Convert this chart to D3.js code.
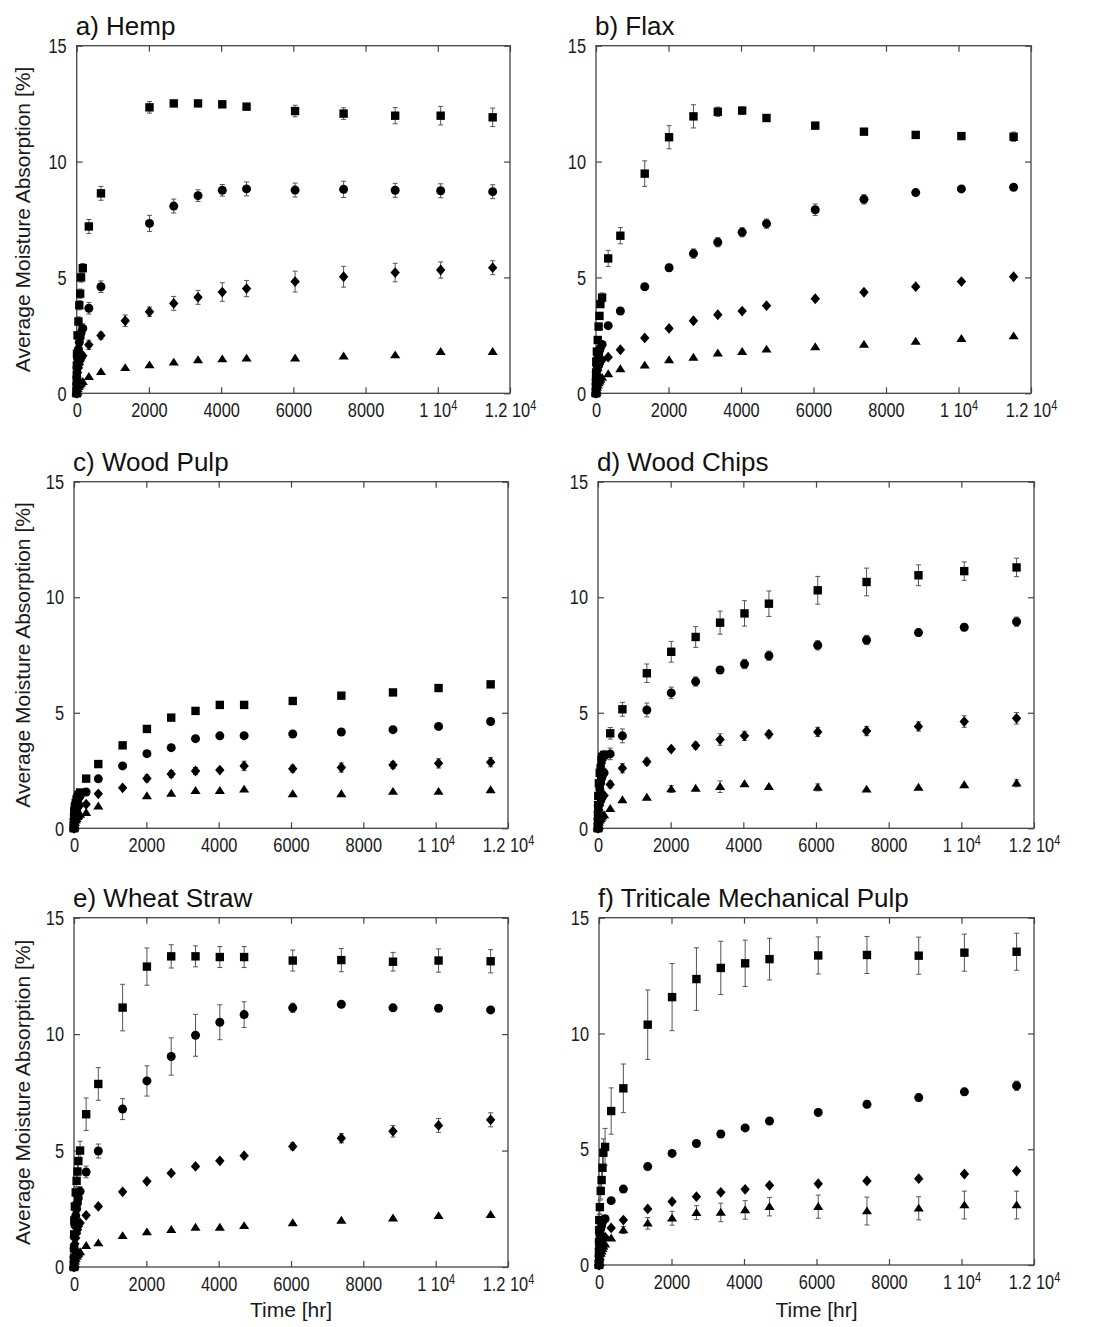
<!DOCTYPE html>
<html><head><meta charset="utf-8">
<script src="https://cdn.jsdelivr.net/npm/d3@7"></script>
<style>
html,body{margin:0;padding:0;background:#fff;}
svg{display:block;}
</style></head>
<body>
<div id="chart"></div>
<script>
// ---------- DATA ----------
const times = [0, 1, 2, 4, 8, 24, 48, 72, 96, 120, 168, 336, 672, 1344, 2016, 2688, 3360, 4032, 4704, 6048, 7392, 8820, 10080, 11520];
const panelTitles = ["a) Hemp", "b) Flax", "c) Wood Pulp", "d) Wood Chips", "e) Wheat Straw", "f) Triticale Mechanical Pulp"];
const xTicks = [0, 2000, 4000, 6000, 8000, 10000, 12000];
const yTicks = [0, 5, 10, 15];
const xLabel = "Time [hr]";
const yLabel = "Average Moisture Absorption [%]";
const xDomain = [0, 12000];
const yDomain = [0, 15];

// a) Hemp
const hempSquare    = [0, 0.4, 0.8, 1.2, 1.7, 2.5, 3.1, 3.8, 4.3, 5.0, 5.4, 7.2, 8.63, null, 12.34, 12.51, 12.51, 12.47, 12.37, 12.18, 12.07, 11.98, 11.98, 11.91];
const hempSquareErr = [0, 0.05, 0.05, 0.1, 0.1, 0.15, 0.2, 0.2, 0.2, 0.2, 0.2, 0.3, 0.3, null, 0.25, 0.1, 0.1, 0.1, 0.1, 0.25, 0.25, 0.35, 0.4, 0.4];
const hempCircle    = [0, 0.2, 0.4, 0.7, 1.1, 1.5, 1.9, 2.2, 2.4, 2.6, 2.8, 3.67, 4.6, null, 7.33, 8.08, 8.53, 8.76, 8.82, 8.77, 8.8, 8.76, 8.74, 8.7];
const hempCircleErr = [0, 0.05, 0.05, 0.1, 0.1, 0.15, 0.15, 0.2, 0.2, 0.2, 0.2, 0.25, 0.25, null, 0.35, 0.3, 0.25, 0.25, 0.3, 0.3, 0.35, 0.3, 0.3, 0.3];
const hempDiamond    = [0, 0.1, 0.2, 0.4, 0.6, 0.9, 1.1, 1.25, 1.4, 1.5, 1.62, 2.09, 2.49, 3.13, 3.52, 3.88, 4.14, 4.37, 4.52, 4.82, 5.03, 5.21, 5.32, 5.42];
const hempDiamondErr = [0, 0, 0.05, 0.05, 0.1, 0.1, 0.1, 0.1, 0.1, 0.1, 0.15, 0.2, 0.15, 0.25, 0.2, 0.3, 0.3, 0.4, 0.35, 0.45, 0.45, 0.4, 0.35, 0.3];
const hempTriangle    = [0, 0.03, 0.05, 0.08, 0.12, 0.2, 0.28, 0.35, 0.4, 0.45, 0.5, 0.72, 0.93, 1.1, 1.22, 1.34, 1.44, 1.48, 1.51, 1.52, 1.6, 1.65, 1.8, 1.8];
const hempTriangleErr = [0, 0, 0, 0, 0.03, 0.03, 0.03, 0.05, 0.05, 0.05, 0.05, 0.05, 0.05, 0.05, 0.05, 0.05, 0.05, 0.05, 0.05, 0.05, 0.05, 0.05, 0.05, 0.05];

// b) Flax
const flaxSquare    = [0, 0.3, 0.6, 0.9, 1.37, 1.8, 2.3, 2.88, 3.34, 3.85, 4.13, 5.82, 6.8, 9.48, 11.05, 11.95, 12.15, 12.2, 11.88, 11.55, 11.29, 11.15, 11.1, 11.07];
const flaxSquareErr = [0, 0.05, 0.05, 0.1, 0.1, 0.1, 0.1, 0.15, 0.15, 0.15, 0.2, 0.35, 0.35, 0.55, 0.5, 0.5, 0.2, 0.15, 0.1, 0.1, 0.1, 0.1, 0.1, 0.2];
const flaxCircle    = [0, 0.2, 0.4, 0.6, 0.9, 1.2, 1.5, 1.7, 1.85, 1.95, 2.11, 2.92, 3.55, 4.6, 5.42, 6.03, 6.52, 6.95, 7.32, 7.92, 8.37, 8.66, 8.82, 8.89];
const flaxCircleErr = [0, 0, 0.05, 0.05, 0.05, 0.05, 0.05, 0.05, 0.05, 0.05, 0.05, 0.05, 0.1, 0.1, 0.15, 0.2, 0.2, 0.2, 0.2, 0.25, 0.2, 0.1, 0.05, 0.05];
const flaxDiamond    = [0, 0.1, 0.2, 0.35, 0.55, 0.8, 1.0, 1.15, 1.25, 1.35, 1.44, 1.56, 1.88, 2.39, 2.8, 3.13, 3.39, 3.55, 3.78, 4.08, 4.36, 4.6, 4.82, 5.03];
const flaxDiamondErr = [0, 0, 0, 0.03, 0.03, 0.03, 0.05, 0.05, 0.05, 0.05, 0.05, 0.05, 0.05, 0.05, 0.05, 0.05, 0.05, 0.05, 0.05, 0.05, 0.05, 0.05, 0.05, 0.05];
const flaxTriangle    = [0, 0.03, 0.06, 0.1, 0.15, 0.25, 0.35, 0.45, 0.52, 0.6, 0.68, 0.84, 1.05, 1.21, 1.44, 1.55, 1.73, 1.8, 1.9, 2.0, 2.11, 2.24, 2.36, 2.47];
const flaxTriangleErr = [0, 0, 0, 0, 0.03, 0.03, 0.03, 0.03, 0.03, 0.03, 0.03, 0.03, 0.03, 0.03, 0.03, 0.03, 0.03, 0.03, 0.03, 0.03, 0.03, 0.03, 0.03, 0.03];

// c) Wood Pulp
const pulpSquare    = [0, 0.15, 0.3, 0.5, 0.75, 0.95, 1.1, 1.25, 1.35, 1.45, 1.55, 2.15, 2.78, 3.59, 4.3, 4.79, 5.08, 5.34, 5.34, 5.51, 5.74, 5.88, 6.07, 6.23];
const pulpSquareErr = [0, 0, 0, 0.03, 0.03, 0.03, 0.03, 0.03, 0.03, 0.03, 0.05, 0.05, 0.05, 0.05, 0.05, 0.1, 0.1, 0.05, 0.05, 0.05, 0.05, 0.05, 0.05, 0.05];
const pulpCircle    = [0, 0.1, 0.25, 0.4, 0.6, 0.8, 0.95, 1.1, 1.2, 1.3, 1.4, 1.57, 2.14, 2.7, 3.23, 3.49, 3.88, 4.0, 4.01, 4.08, 4.17, 4.27, 4.41, 4.62];
const pulpCircleErr = [0, 0, 0, 0.03, 0.03, 0.03, 0.03, 0.03, 0.03, 0.03, 0.03, 0.05, 0.05, 0.05, 0.05, 0.05, 0.05, 0.05, 0.05, 0.05, 0.05, 0.05, 0.05, 0.12];
const pulpDiamond    = [0, 0.05, 0.15, 0.25, 0.4, 0.55, 0.7, 0.8, 0.88, 0.95, 1.0, 1.04, 1.49, 1.75, 2.16, 2.35, 2.48, 2.52, 2.7, 2.58, 2.63, 2.74, 2.81, 2.86];
const pulpDiamondErr = [0, 0, 0, 0.03, 0.03, 0.03, 0.05, 0.05, 0.05, 0.05, 0.05, 0.05, 0.08, 0.08, 0.15, 0.15, 0.15, 0.1, 0.2, 0.15, 0.2, 0.15, 0.2, 0.2];
const pulpTriangle    = [0, 0.03, 0.05, 0.1, 0.15, 0.25, 0.35, 0.42, 0.5, 0.55, 0.6, 0.68, 0.96, null, 1.4, 1.51, 1.63, 1.63, 1.69, 1.49, 1.49, 1.59, 1.59, 1.66];
const pulpTriangleErr = [0, 0, 0, 0, 0.03, 0.03, 0.03, 0.03, 0.03, 0.03, 0.03, 0.03, 0.03, null, 0.05, 0.05, 0.05, 0.05, 0.05, 0.05, 0.05, 0.05, 0.05, 0.05];

// d) Wood Chips
const chipsSquare    = [0, 0.3, 0.6, 1.0, 1.4, 1.95, 2.4, 2.6, 2.96, 3.1, 3.17, 4.11, 5.15, 6.71, 7.64, 8.28, 8.9, 9.3, 9.72, 10.3, 10.66, 10.95, 11.13, 11.29];
const chipsSquareErr = [0, 0.05, 0.05, 0.1, 0.1, 0.1, 0.15, 0.15, 0.15, 0.2, 0.2, 0.25, 0.3, 0.4, 0.45, 0.45, 0.5, 0.55, 0.55, 0.6, 0.6, 0.45, 0.4, 0.4];
const chipsCircle    = [0, 0.2, 0.4, 0.7, 1.0, 1.4, 1.7, 1.95, 2.15, 2.3, 2.4, 3.22, 4.0, 5.12, 5.86, 6.35, 6.85, 7.11, 7.47, 7.92, 8.15, 8.47, 8.7, 8.94];
const chipsCircleErr = [0, 0.05, 0.05, 0.1, 0.1, 0.1, 0.15, 0.15, 0.15, 0.2, 0.2, 0.25, 0.3, 0.3, 0.25, 0.2, 0.15, 0.2, 0.2, 0.2, 0.2, 0.15, 0.15, 0.2];
const chipsDiamond    = [0, 0.1, 0.2, 0.35, 0.55, 0.8, 1.0, 1.15, 1.25, 1.35, 1.42, 1.9, 2.6, 2.88, 3.43, 3.58, 3.84, 4.0, 4.07, 4.17, 4.21, 4.41, 4.62, 4.76];
const chipsDiamondErr = [0, 0, 0.05, 0.05, 0.05, 0.1, 0.1, 0.1, 0.1, 0.1, 0.1, 0.15, 0.2, 0.15, 0.1, 0.15, 0.25, 0.2, 0.15, 0.2, 0.2, 0.2, 0.25, 0.25];
const chipsTriangle    = [0, 0.03, 0.05, 0.1, 0.15, 0.25, 0.35, 0.42, 0.48, 0.53, 0.58, 0.85, 1.23, 1.34, 1.7, 1.73, 1.8, 1.92, 1.8, 1.77, 1.69, 1.77, 1.88, 1.95];
const chipsTriangleErr = [0, 0, 0, 0, 0.03, 0.03, 0.03, 0.05, 0.05, 0.05, 0.05, 0.05, 0.05, 0.05, 0.15, 0.1, 0.25, 0.1, 0.1, 0.15, 0.05, 0.1, 0.1, 0.15];

// e) Wheat Straw
const wheatSquare    = [0, 0.4, 0.8, 1.4, 2.0, 2.6, 3.2, 3.7, 4.1, 4.55, 5.0, 6.56, 7.86, 11.14, 12.9, 13.34, 13.34, 13.31, 13.31, 13.16, 13.18, 13.11, 13.16, 13.13];
const wheatSquareErr = [0, 0.05, 0.1, 0.1, 0.15, 0.2, 0.2, 0.25, 0.3, 0.3, 0.4, 0.7, 0.7, 1.0, 0.8, 0.5, 0.45, 0.45, 0.45, 0.45, 0.5, 0.4, 0.5, 0.5];
const wheatCircle    = [0, 0.2, 0.4, 0.8, 1.3, 1.8, 2.2, 2.5, 2.75, 2.96, 3.25, 4.08, 4.98, 6.78, 7.99, 9.04, 9.95, 10.51, 10.84, 11.13, 11.28, 11.13, 11.11, 11.04];
const wheatCircleErr = [0, 0.05, 0.05, 0.1, 0.1, 0.1, 0.15, 0.15, 0.15, 0.2, 0.2, 0.25, 0.3, 0.45, 0.65, 0.8, 0.9, 0.75, 0.55, 0.2, 0.1, 0.1, 0.1, 0.1];
const wheatDiamond    = [0, 0.1, 0.25, 0.45, 0.7, 1.0, 1.25, 1.45, 1.6, 1.75, 1.89, 2.22, 2.6, 3.23, 3.68, 4.03, 4.32, 4.56, 4.78, 5.18, 5.53, 5.83, 6.08, 6.32];
const wheatDiamondErr = [0, 0, 0.05, 0.05, 0.05, 0.05, 0.05, 0.05, 0.05, 0.05, 0.05, 0.05, 0.05, 0.05, 0.05, 0.05, 0.05, 0.1, 0.1, 0.15, 0.2, 0.25, 0.3, 0.3];
const wheatTriangle    = [0, 0.03, 0.06, 0.1, 0.15, 0.25, 0.35, 0.45, 0.52, 0.58, 0.65, 0.92, 1.03, 1.34, 1.5, 1.6, 1.7, 1.7, 1.77, 1.89, 2.0, 2.1, 2.2, 2.25];
const wheatTriangleErr = [0, 0, 0, 0, 0.03, 0.03, 0.03, 0.03, 0.03, 0.03, 0.03, 0.03, 0.03, 0.03, 0.03, 0.03, 0.03, 0.03, 0.03, 0.03, 0.03, 0.03, 0.03, 0.03];

// f) Triticale Mechanical Pulp
const tritSquare    = [0, 0.5, 1.0, 1.5, 1.94, 2.5, 3.2, 3.67, 4.2, 4.85, 5.1, 6.65, 7.63, 10.38, 11.57, 12.35, 12.83, 13.03, 13.21, 13.37, 13.39, 13.36, 13.49, 13.53];
const tritSquareErr = [0, 0.1, 0.15, 0.2, 0.25, 0.3, 0.35, 0.4, 0.5, 0.6, 0.8, 1.0, 1.05, 1.5, 1.45, 1.35, 1.15, 1.0, 0.9, 0.8, 0.8, 0.8, 0.8, 0.8];
const tritCircle    = [0, 0.2, 0.4, 0.7, 1.0, 1.3, 1.55, 1.7, 1.85, 1.95, 2.0, 2.78, 3.28, 4.25, 4.82, 5.25, 5.66, 5.92, 6.22, 6.59, 6.94, 7.23, 7.48, 7.74];
const tritCircleErr = [0, 0, 0.05, 0.05, 0.05, 0.05, 0.05, 0.05, 0.05, 0.05, 0.05, 0.05, 0.05, 0.05, 0.05, 0.1, 0.15, 0.1, 0.15, 0.15, 0.15, 0.15, 0.15, 0.2];
const tritDiamond    = [0, 0.1, 0.2, 0.35, 0.55, 0.75, 0.9, 1.0, 1.1, 1.15, 1.2, 1.6, 1.94, 2.42, 2.74, 2.95, 3.14, 3.27, 3.44, 3.51, 3.63, 3.73, 3.93, 4.06];
const tritDiamondErr = [0, 0, 0, 0.03, 0.03, 0.03, 0.03, 0.03, 0.03, 0.03, 0.03, 0.03, 0.03, 0.03, 0.03, 0.03, 0.03, 0.03, 0.03, 0.03, 0.03, 0.03, 0.03, 0.03];
const tritTriangle    = [0, 0.05, 0.1, 0.15, 0.25, 0.35, 0.5, 0.6, 0.7, 0.8, 0.9, 1.16, 1.51, 1.8, 2.02, 2.26, 2.27, 2.38, 2.52, 2.52, 2.33, 2.45, 2.59, 2.59];
const tritTriangleErr = [0, 0, 0.03, 0.03, 0.05, 0.05, 0.05, 0.05, 0.05, 0.05, 0.05, 0.1, 0.15, 0.25, 0.3, 0.3, 0.4, 0.4, 0.4, 0.5, 0.6, 0.5, 0.6, 0.6];

// ---------- BUILD ----------
const panelSeries = [
  [[hempSquare, hempSquareErr], [hempCircle, hempCircleErr], [hempDiamond, hempDiamondErr], [hempTriangle, hempTriangleErr]],
  [[flaxSquare, flaxSquareErr], [flaxCircle, flaxCircleErr], [flaxDiamond, flaxDiamondErr], [flaxTriangle, flaxTriangleErr]],
  [[pulpSquare, pulpSquareErr], [pulpCircle, pulpCircleErr], [pulpDiamond, pulpDiamondErr], [pulpTriangle, pulpTriangleErr]],
  [[chipsSquare, chipsSquareErr], [chipsCircle, chipsCircleErr], [chipsDiamond, chipsDiamondErr], [chipsTriangle, chipsTriangleErr]],
  [[wheatSquare, wheatSquareErr], [wheatCircle, wheatCircleErr], [wheatDiamond, wheatDiamondErr], [wheatTriangle, wheatTriangleErr]],
  [[tritSquare, tritSquareErr], [tritCircle, tritCircleErr], [tritDiamond, tritDiamondErr], [tritTriangle, tritTriangleErr]]
];

// layout (pixels)
const boxes = [
  {l: 76.7, r: 510, t: 45.7, b: 393.3},
  {l: 596, r: 1031, t: 45.7, b: 393.3},
  {l: 74, r: 508, t: 481.7, b: 828.3},
  {l: 598, r: 1034, t: 481.7, b: 828.3},
  {l: 74, r: 508, t: 917.7, b: 1267},
  {l: 599, r: 1034, t: 917.7, b: 1265}
];

// marker shapes
const shapes = [
  {draw(ctx, s) { const h = s; ctx.rect(-h, -h, 2*h, 2*h); }},                 // square
  {draw(ctx, s) { ctx.moveTo(s, 0); ctx.arc(0, 0, s, 0, 2*Math.PI); }},      // circle
  {draw(ctx, s) { ctx.moveTo(0, -s*1.15); ctx.lineTo(s, 0); ctx.lineTo(0, s*1.15); ctx.lineTo(-s, 0); ctx.closePath(); }}, // diamond
  {draw(ctx, s) { const w = s*1.15, hh = s; ctx.moveTo(0, -hh*1.05); ctx.lineTo(w, hh*0.75); ctx.lineTo(-w, hh*0.75); ctx.closePath(); }} // triangle
];
const shapeSize = [4.2, 4.5, 4.7, 4.4];

const W = 1097, H = 1327;
const svg = d3.select("#chart").append("svg").attr("width", W).attr("height", H)
  .style("font-family", "'Liberation Sans', Arial, Helvetica, sans-serif");

const SX = 0.78; // narrow tick font

panelSeries.forEach((series, pi) => {
  const bx = boxes[pi];
  const x = d3.scaleLinear().domain(xDomain).range([bx.l, bx.r]);
  const y = d3.scaleLinear().domain(yDomain).range([bx.b, bx.t]);
  const g = svg.append("g");

  // title
  g.append("text").attr("x", bx.l - 1).attr("y", bx.t - 11)
    .attr("font-size", 26).attr("fill", "#111").text(panelTitles[pi]);

  // frame
  g.append("rect").attr("x", bx.l).attr("y", bx.t)
    .attr("width", bx.r - bx.l).attr("height", bx.b - bx.t)
    .attr("fill", "none").attr("stroke", "#444").attr("stroke-width", 1.3);

  // axes
  const axB = g.append("g").attr("transform", `translate(0,${bx.b})`)
    .call(d3.axisBottom(x).tickValues(xTicks).tickSizeInner(-6).tickSizeOuter(0).tickPadding(9).tickFormat(d => d));
  const axT = g.append("g").attr("transform", `translate(0,${bx.t})`)
    .call(d3.axisTop(x).tickValues(xTicks).tickSizeInner(-6).tickSizeOuter(0).tickFormat(""));
  const axL = g.append("g").attr("transform", `translate(${bx.l},0)`)
    .call(d3.axisLeft(y).tickValues(yTicks).tickSizeInner(-6).tickSizeOuter(0).tickPadding(10));
  const axR = g.append("g").attr("transform", `translate(${bx.r},0)`)
    .call(d3.axisRight(y).tickValues(yTicks).tickSizeInner(-6).tickSizeOuter(0).tickFormat(""));
  [axB, axT, axL, axR].forEach(a => {
    a.select(".domain").remove();
    a.selectAll(".tick line").attr("stroke", "#444").attr("stroke-width", 1.2);
    a.selectAll("text").attr("font-size", 21).attr("fill", "#1a1a1a")
      .attr("font-family", "'Liberation Sans', Arial, sans-serif");
  });
  axB.selectAll(".tick text").attr("transform", `scale(${SX},1)`)
    .each(function(d) {
      if (d >= 10000) {
        const t = d3.select(this);
        const mant = d / 10000;
        t.text(null);
        t.append("tspan").text(`${mant} 10`);
        t.append("tspan").attr("dy", "-0.5em").attr("font-size", 14).text("4");
      }
    });
  axL.selectAll(".tick text").attr("transform", `scale(${SX},1)`).attr("x", -10 / SX);

  // y label
  if (pi % 2 === 0) {
    g.append("text").attr("transform", `translate(30,${(bx.t + bx.b) / 2}) rotate(-90)`)
      .attr("text-anchor", "middle").attr("font-size", 21).attr("fill", "#1a1a1a").text(yLabel);
  }
  // x label
  if (pi >= 4) {
    g.append("text").attr("x", (bx.l + bx.r) / 2).attr("y", 1317)
      .attr("text-anchor", "middle").attr("font-size", 21).attr("fill", "#1a1a1a").text(xLabel);
  }

  // error bars
  const eg = g.append("g").attr("stroke", "#555").attr("stroke-width", 1);
  series.forEach(([vals, errs]) => {
    const pts = times.map((t, i) => ({t, v: vals[i], e: errs[i]})).filter(p => p.v != null && p.e > 0.12);
    const sel = eg.selectAll(null).data(pts).enter().append("g");
    sel.append("line").attr("x1", p => x(p.t)).attr("x2", p => x(p.t))
      .attr("y1", p => y(p.v - p.e)).attr("y2", p => y(p.v + p.e));
    sel.append("line").attr("x1", p => x(p.t) - 2.5).attr("x2", p => x(p.t) + 2.5)
      .attr("y1", p => y(p.v + p.e)).attr("y2", p => y(p.v + p.e));
    sel.append("line").attr("x1", p => x(p.t) - 2.5).attr("x2", p => x(p.t) + 2.5)
      .attr("y1", p => y(p.v - p.e)).attr("y2", p => y(p.v - p.e));
  });

  // markers
  series.forEach(([vals], si) => {
    const pts = times.map((t, i) => ({t, v: vals[i]})).filter(p => p.v != null);
    const sym = d3.symbol().type(shapes[si]).size(shapeSize[si]);
    g.append("g").selectAll("path").data(pts).enter().append("path")
      .attr("d", sym)
      .attr("transform", p => `translate(${x(p.t)},${y(p.v)})`)
      .attr("fill", "#000");
  });
});
</script>
</body></html>
